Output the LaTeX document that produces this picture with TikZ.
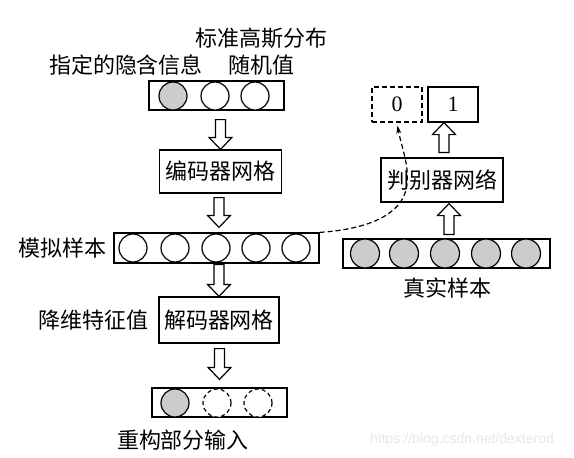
\documentclass[tikz,border=0pt]{standalone}
\usepackage{fontspec}
\setmainfont{Liberation Serif}
\newfontfamily\cjk{Noto Sans CJK SC}
\newfontfamily\markfont{Liberation Sans}
\usepackage{tikz}
\usetikzlibrary{positioning,calc,arrows.meta}

\begin{document}
\begin{tikzpicture}[x=1pt, y=-1pt, line width=1.2pt, font=\cjk\fontsize{22pt}{26pt}\selectfont]
        \tikzstyle{process} = [rectangle, minimum width=122pt, minimum height=44pt, inner sep=2pt, text centered, draw=black]
        \tikzstyle{layer} = [rectangle, minimum height=29pt, inner sep=0pt, draw=black]
        \tikzstyle{unit} = [circle, minimum size=28pt, inner sep=0pt, draw=black, fill=white]
        \tikzstyle{known} = [unit, fill=gray!40]
        \tikzstyle{guess} = [unit, dash pattern=on 4pt off 3pt]
        \tikzstyle{result} = [rectangle, minimum width=50pt, minimum height=35pt, inner sep=0pt, draw=black, font=\fontsize{22pt}{26pt}\selectfont]
        \tikzstyle{arrow} = [dash pattern=on 5pt off 3pt, ->, >={Stealth[length=8pt,width=5pt]}]
        \tikzset{hollow/.style 2 args={draw=black, fill=white, to path={
            let \p1=($(\tikztostart)!#1!(\tikztotarget)$),
                \p2=($(\tikztotarget)!#2!(\tikztostart)$),
                \p3=($(\p2)!12pt!(\p1)$)
            in (\x1-5pt,\y1) -- (\x3-5pt,\y3) -- (\x3-11.5pt,\y3) -- (\p2)
               -- (\x3+11.5pt,\y3) -- (\x3+5pt,\y3) -- (\x1+5pt,\y1) -- cycle}}}

        \fill [white] (0,0) rectangle (574,458);
        \useasboundingbox (0,0) rectangle (574,458);

        % generator side
        \node (gauss) at (261,38) {标准高斯分布};
        \node (info) at (172,65) {指定的隐含信息\hspace{26pt}随机值};

        \node (top) [layer, minimum width=135pt] at (216.5,95.5) {};
        \node (t1) [known] at (173,96) {};
        \node (t2) [unit] at (215,96) {};
        \node (t3) [unit] at (255,96) {};

        \node (enc) [process, minimum height=43pt] at (220.5,171.5) {编码器网格};

        \node (sim) [layer, minimum width=205pt, minimum height=30pt] at (216.5,248) {};
        \foreach \x [count=\i] in {133,175,216,256,296}
            \node (s\i) [unit] at (\x,248) {};
        \node (simtext) [left=6pt of sim, inner sep=0pt] {模拟样本};

        \node (dec) [process, minimum width=120pt, minimum height=46pt] at (219,320) {解码器网格};
        \node (dimtext) [left=9pt of dec, inner sep=0pt] {降维特征值};

        \node (out) [layer, minimum width=135pt] at (219.5,402.5) {};
        \node (o1) [known] at (175,403) {};
        \node (o2) [guess] at (217,403) {};
        \node (o3) [guess] at (258,403) {};
        \node (outtext) at (183,440) {重构部分输入};

        % discriminator side
        \node (zero) [result, dash pattern=on 5pt off 3pt] at (397,104.5) {0};
        \node (one) [result] at (453,104.5) {1};
        \node (disc) [process] at (442,180) {判别器网络};

        \node (real) [layer, minimum width=207pt] at (446.5,253.5) {};
        \foreach \x [count=\i] in {365,404,445,486,526}
            \node (r\i) [known, minimum size=29pt] at (\x,253.5) {};
        \node (realtext) at (447,288) {真实样本};

        \node (mark) [text=black!9, font=\markfont\fontsize{14pt}{16pt}\selectfont] at (462,440) {https://blog.csdn.net/dexterod};

        \draw [hollow={9pt}{0pt}] (enc.north |- top.south) to (enc.north);
        \draw [hollow={4pt}{5pt}] ([xshift=-1.5pt]enc.south) to ([xshift=-1.5pt]enc.south |- sim.north);
        \draw [hollow={1pt}{0pt}] (dec.north |- sim.south) to (dec.north);
        \draw [hollow={5pt}{8pt}] ([xshift=0.5pt]dec.south) to ([xshift=0.5pt]dec.south |- out.north);
        \draw [hollow={5pt}{0pt}] ([xshift=2pt]disc.north) to ([xshift=2pt]disc.north |- one.south);
        \draw [hollow={4pt}{1pt}] ([xshift=7pt]disc.south |- real.north) to ([xshift=7pt]disc.south);

        \coordinate (bend) at (406,190);
        \draw [arrow, shorten >=3pt] (sim.north east) .. controls (370,229) and (400,214) .. (bend) .. controls (411,168) and (401,146) .. (zero.south);
\end{tikzpicture}
\end{document}
